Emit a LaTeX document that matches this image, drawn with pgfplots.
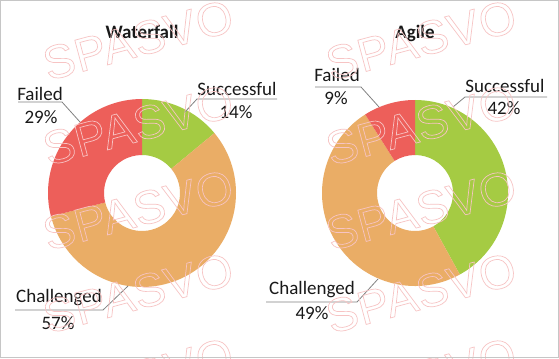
\documentclass[border=0pt]{standalone}
\usepackage{pgfplots}
\pgfplotsset{compat=1.18}
\usepackage{fontspec}
\setmainfont{Carlito}
\newfontfamily\wmfont[LetterSpace=2]{Liberation Sans}
\definecolor{cgreen}{RGB}{165,203,67}
\definecolor{corange}{RGB}{234,173,102}
\definecolor{cred}{RGB}{237,95,90}
\definecolor{cline}{RGB}{130,130,130}
\definecolor{cwm}{RGB}{247,196,196}
\definecolor{ctext}{RGB}{25,25,25}
% cx cy R r start end color
\newcommand{\slice}[7]{%
  \fill[#7] (axis cs:#1,#2) ++({90-3.6*(#5)}:#3bp)
    arc[start angle={90-3.6*(#5)}, end angle={90-3.6*(#6)}, radius=#3bp]
    -- ++({90-3.6*(#6)}:{#4bp-#3bp})
    arc[start angle={90-3.6*(#6)}, end angle={90-3.6*(#5)}, radius=#4bp] -- cycle;}
\newcommand{\wm}{\special{pdf:literal direct 1 Tr 0.7 w}SPASVO\special{pdf:literal direct 0 Tr}}
\begin{document}
\begin{tikzpicture}[x=1bp,y=1bp]
\fill[white] (0,0) rectangle (559,358);
\begin{axis}[at={(0,0)}, anchor=south west, x=1bp, y=1bp,
  xmin=0, xmax=559, ymin=0, ymax=358, hide axis, clip=false]
% Waterfall: Successful 14, Challenged 57, Failed 29
\slice{142}{165}{94}{38}{0}{14}{cgreen}
\slice{142}{165}{94}{38}{14}{71}{corange}
\slice{142}{165}{94}{38}{71}{100}{cred}
% Agile: Successful 42, Challenged 49, Failed 9
\slice{415}{165}{93}{38}{0}{42}{cgreen}
\slice{415}{165}{93}{38}{42}{91}{corange}
\slice{415}{165}{93}{38}{91}{100}{cred}
% leader lines
\addplot[cline, line width=0.8bp] coordinates {(185,246) (197,259) (277,259)};
\addplot[cline, line width=0.8bp] coordinates {(18,256) (62,256) (80,236)};
\addplot[cline, line width=0.8bp] coordinates {(15,48) (103,48) (128,72)};
\addplot[cline, line width=0.8bp] coordinates {(315,271) (361,271) (379,251)};
\addplot[cline, line width=0.8bp] coordinates {(453,251) (465,261) (547,261)};
\addplot[cline, line width=0.8bp] coordinates {(266,56) (357,56) (378,79)};
% titles
\node[font=\bfseries\fontsize{19bp}{22bp}\selectfont, text=ctext] at (axis cs:142,326) {Waterfall};
\node[font=\bfseries\fontsize{19bp}{22bp}\selectfont, text=ctext] at (axis cs:415,325) {Agile};
% labels
\tikzset{lab/.style={font=\fontsize{19bp}{22bp}\selectfont, text=ctext, inner sep=0pt}}
\node[lab] at (axis cs:237,269) {Successful};
\node[lab] at (axis cs:236,246) {14\%};
\node[lab] at (axis cs:40,264) {Failed};
\node[lab] at (axis cs:41,241) {29\%};
\node[lab] at (axis cs:59,60) {Challenged};
\node[lab] at (axis cs:58,35) {57\%};
\node[lab] at (axis cs:337,283) {Failed};
\node[lab] at (axis cs:336,260) {9\%};
\node[lab] at (axis cs:505,272) {Successful};
\node[lab] at (axis cs:504,250) {42\%};
\node[lab] at (axis cs:312,68) {Challenged};
\node[lab] at (axis cs:312,45) {49\%};
\end{axis}
% watermark
\begin{scope}
\clip (0,0) rectangle (559,358);
\tikzset{wmk/.style={font=\wmfont\fontsize{47bp}{47bp}\selectfont, text=cwm, rotate=15, inner sep=0pt}}
\foreach \cx in {138,421}{
  \foreach \cy in {318,233,148,65,-20}{
    \node[wmk] at (\cx,\cy) {\wm};
  }}
\end{scope}
\draw[gray!45, line width=1bp] (0.5,0.5) rectangle (558.5,357.5);
\end{tikzpicture}
\end{document}
